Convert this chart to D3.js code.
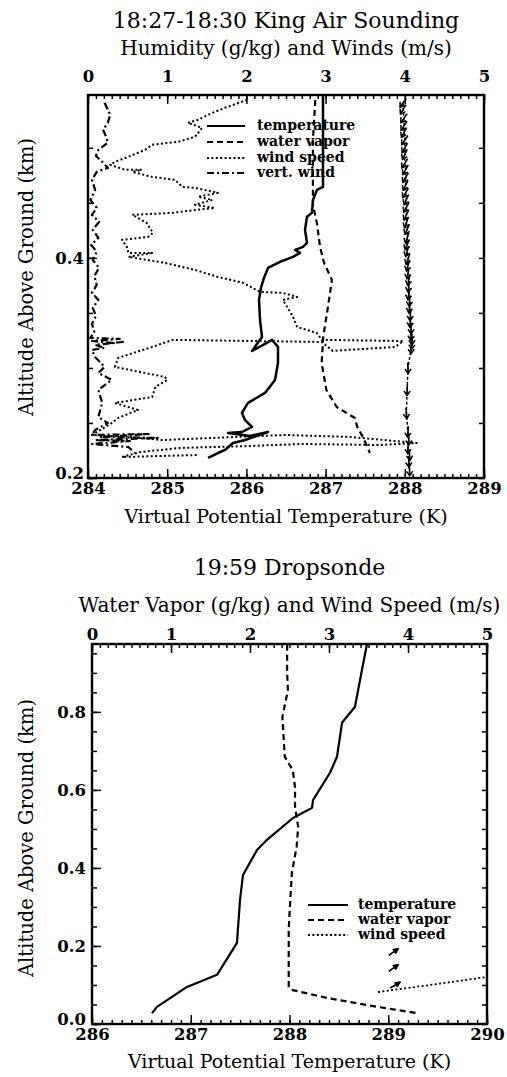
<!DOCTYPE html>
<html><head><meta charset="utf-8">
<script src="https://cdn.jsdelivr.net/npm/d3@7"></script>
<style>
body{margin:0;background:#fff}
svg{display:block}
text{font-family:"DejaVu Serif",serif;fill:#000}
</style>
</head><body>
<svg id="c" width="507" height="1077"></svg>
<script>
// ---------------- King Air sounding (top panel) ----------------
const kaTempT   = [286.967,286.967,286.891,286.841,286.828,286.765,286.740,286.765,286.715,286.614,286.677,286.588,286.424,286.273,286.222,286.184,286.159,286.172,286.197,286.071,286.235,286.323,286.399,286.399,286.361,286.235,286.020,285.944,285.982,286.071,285.944,285.768,286.045,286.273,285.982,285.831,285.730,285.641,285.515];
const kaTempAlt = [0.5473,0.4645,0.4618,0.4527,0.4409,0.4373,0.4255,0.4136,0.4100,0.4073,0.4045,0.4009,0.3964,0.3909,0.3818,0.3727,0.3618,0.3436,0.3282,0.3155,0.3218,0.3255,0.3191,0.3045,0.2891,0.2773,0.2682,0.2591,0.2527,0.2464,0.2418,0.2409,0.2382,0.2418,0.2345,0.2318,0.2255,0.2227,0.2182];

const kaVapQ   = [2.87,2.84,2.84,2.84,2.89,2.93,2.98,3.08,3.03,2.97,2.95,3.01,3.14,3.37,3.40,3.47,3.56];
const kaVapAlt = [0.5436,0.5073,0.4800,0.4482,0.4318,0.4100,0.3955,0.3800,0.3555,0.3282,0.3045,0.2800,0.2645,0.2545,0.2464,0.2373,0.2227];

const kaWspd = [2.01,1.73,1.57,1.39,1.26,1.44,1.35,1.14,0.81,0.72,0.51,0.34,0.28,0.47,0.68,0.56,0.81,1.10,1.19,1.35,1.64,1.39,1.57,1.35,1.60,1.06,0.56,0.74,0.82,0.76,0.43,0.49,0.51,0.81,0.51,0.97,1.35,1.64,1.96,2.17,2.46,2.64,2.46,2.59,2.64,2.89,2.95,3.98,3.88,3.09,2.95,1.07,0.81,0.38,0.34,0.97,1.00,0.85,0.81,0.34,0.63,0.38,0.30,0.05,0.53,0.93,2.49,3.31,4.15,3.69,2.71,2.05,1.16,0.66,0.43,1.39];
const kaWspdAlt = [0.5436,0.5364,0.5318,0.5255,0.5227,0.5182,0.5100,0.5055,0.5027,0.4982,0.4918,0.4873,0.4845,0.4800,0.4800,0.4782,0.4736,0.4709,0.4645,0.4636,0.4591,0.4555,0.4527,0.4482,0.4455,0.4409,0.4391,0.4318,0.4227,0.4191,0.4164,0.4100,0.4045,0.4045,0.4009,0.3955,0.3891,0.3827,0.3773,0.3691,0.3682,0.3645,0.3618,0.3464,0.3373,0.3318,0.3255,0.3245,0.3191,0.3155,0.3236,0.3255,0.3191,0.3091,0.3009,0.2918,0.2891,0.2827,0.2736,0.2682,0.2618,0.2545,0.2500,0.2391,0.2373,0.2345,0.2391,0.2373,0.2318,0.2300,0.2309,0.2291,0.2273,0.2236,0.2191,0.2209];

const kaVert = [0.21,0.28,0.25,0.19,0.23,0.25,0.13,0.10,0.18,0.25,0.11,0.05,0.09,0.03,0.11,0.05,0.14,0.06,0.13,0.04,0.11,0.06,0.14,0.08,0.11,0.05,0.13,0.06,0.10,0.05,0.08,0.03,0.40,0.05,0.30,0.44,0.09,0.21,0.05,0.09,0.21,0.13,0.30,0.13,0.18,0.13,0.25,0.09,0.05,0.78,0.15,0.88,0.09,0.53,0.05,0.51,0.59];
const kaVertAlt = [0.5409,0.5300,0.5227,0.5164,0.5100,0.5045,0.4982,0.4927,0.4873,0.4818,0.4782,0.4709,0.4618,0.4527,0.4455,0.4391,0.4327,0.4255,0.4182,0.4118,0.4055,0.3982,0.3909,0.3836,0.3755,0.3682,0.3618,0.3545,0.3473,0.3400,0.3327,0.3273,0.3264,0.3245,0.3227,0.3236,0.3209,0.3182,0.3164,0.3100,0.3009,0.2955,0.2891,0.2800,0.2682,0.2555,0.2500,0.2436,0.2391,0.2400,0.2373,0.2364,0.2345,0.2336,0.2309,0.2282,0.2227];

const kaArrowAlt = [0.541,0.535,0.527,0.520,0.514,0.507,0.500,0.494,0.486,0.480,0.473,0.466,0.459,0.453,0.446,0.439,0.432,0.426,0.418,0.412,0.406,0.399,0.393,0.386,0.380,0.374,0.367,0.361,0.355,0.348,0.342,0.336,0.330,0.326,0.322,0.318,0.300,0.280,0.259,0.242,0.235,0.227,0.221,0.215,0.207];
const kaArrowDir = [215,210,215,212,208,214,210,205,212,208,210,206,210,204,208,205,200,204,198,202,196,200,195,190,192,188,190,185,188,184,186,182,185,180,183,180,178,182,176,184,178,182,176,180,178];
const kaArrowPos = [3.98,3.98,3.99,3.99,3.99,4.00,4.00,4.00,4.00,4.01,4.01,4.01,4.01,4.02,4.02,4.02,4.02,4.03,4.03,4.03,4.03,4.04,4.04,4.04,4.05,4.05,4.05,4.06,4.06,4.07,4.07,4.08,4.08,4.09,4.09,4.08,4.04,4.03,4.02,4.04,4.05,4.04,4.06,4.05,4.06];

// ---------------- Dropsonde (bottom panel) ----------------
const dpTempT   = [288.785,288.734,288.663,288.532,288.511,288.481,288.410,288.238,288.228,288.035,287.772,287.671,287.529,287.499,287.468,287.266,286.962,286.658,286.608];
const dpTempAlt = [0.974,0.908,0.813,0.772,0.736,0.685,0.644,0.574,0.554,0.528,0.472,0.446,0.382,0.318,0.208,0.126,0.095,0.044,0.028];

const dpVapQ   = [2.47,2.47,2.48,2.41,2.42,2.44,2.54,2.57,2.57,2.61,2.59,2.53,2.51,2.49,2.49,2.54,2.97,3.61,4.11];
const dpVapAlt = [0.972,0.900,0.856,0.787,0.754,0.685,0.651,0.608,0.556,0.505,0.454,0.387,0.318,0.241,0.095,0.087,0.067,0.044,0.028];

const dpWspd    = [3.62,4.28,5.00];
const dpWspdAlt = [0.082,0.100,0.1205];

const dpArrowAlt = [0.185,0.144,0.100];
const dpArrowDir = [55,55,60];
const dpArrowPos = [3.82,3.82,3.84];

// ---------------- ticks / labels ----------------
const kaXTicks = [284,285,286,287,288,289];
const dpXTicks = [286,287,288,289,290];
const topTicks = [0,1,2,3,4,5];
const kaYTicks = [0.2,0.4];
const dpYTicks = [0.0,0.2,0.4,0.6,0.8];
const kaLegend = ["temperature","water vapor","wind speed","vert. wind"];
const dpLegend = ["temperature","water vapor","wind speed"];

const svg = d3.select("#c");
const DASH = "6,4", DOT = "2,2.4", DASHDOT = "7,3,2,3";

function panel(o){
  const x = d3.scaleLinear().domain(o.xDom).range([o.L,o.R]);
  const xt = d3.scaleLinear().domain([0,5]).range([o.L,o.R]);
  const y = d3.scaleLinear().domain(o.yDom).range([o.B,o.T]);
  const g = svg.append("g");
  const cid = "clip"+o.id;
  svg.append("defs").append("clipPath").attr("id",cid)
    .append("rect").attr("x",o.L).attr("y",o.T).attr("width",o.R-o.L).attr("height",o.B-o.T);
  const plot = g.append("g").attr("clip-path",`url(#${cid})`);

  const minorX = d3.range(o.xDom[0],o.xDom[1]+1e-9,0.1);
  const minorT = d3.range(0,5+1e-9,0.1);
  const minorY = d3.range(Math.ceil(o.yDom[0]/0.05-1e-9)*0.05,o.yDom[1]+1e-9,0.05);
  function ax(gen, pos){ const a=g.append("g").attr("transform",pos).call(gen); a.select(".domain").remove(); a.selectAll("line").attr("stroke","#000").attr("stroke-width",1.5); return a;}
  ax(d3.axisBottom(x).tickValues(minorX).tickSize(-4).tickFormat(""),`translate(0,${o.B})`);
  const bx = ax(d3.axisBottom(x).tickValues(o.xTicks).tickSize(-9).tickPadding(4).tickFormat(d3.format("d")),`translate(0,${o.B})`);
  ax(d3.axisTop(xt).tickValues(minorT).tickSize(-4).tickFormat(""),`translate(0,${o.T})`);
  const tx = ax(d3.axisTop(xt).tickValues(topTicks).tickSize(-9).tickPadding(o.topPad).tickFormat(d3.format("d")),`translate(0,${o.T})`);
  ax(d3.axisLeft(y).tickValues(minorY).tickSize(-5).tickFormat(""),`translate(${o.L},0)`);
  const ly = ax(d3.axisLeft(y).tickValues(o.yTicks).tickSize(-9).tickPadding(o.yPad).tickFormat(d3.format(".1f")),`translate(${o.L},0)`);
  ax(d3.axisRight(y).tickValues(minorY).tickSize(-5).tickFormat(""),`translate(${o.R},0)`);
  [bx,tx,ly].forEach(a=>a.selectAll("text").attr("font-size",16.5).attr("font-weight","bold").attr("fill","#000").attr("font-family","DejaVu Serif"));
  ly.selectAll("text").filter(d=>Math.abs(d-o.yDom[0])<1e-9).attr("dy","0.0em");

  g.append("rect").attr("x",o.L).attr("y",o.T).attr("width",o.R-o.L).attr("height",o.B-o.T)
    .attr("fill","none").attr("stroke","#000").attr("stroke-width",2.4);

  const cx = (o.L+o.R)/2;
  g.append("text").attr("x",cx).attr("y",o.titleY).attr("text-anchor","middle").attr("font-size",22).text(o.title);
  g.append("text").attr("x",cx).attr("y",o.subY).attr("text-anchor","middle").attr("font-size",20).text(o.sub);
  g.append("text").attr("x",cx).attr("y",o.xlabY).attr("text-anchor","middle").attr("font-size",19).text("Virtual Potential Temperature (K)");
  g.append("text").attr("transform",`translate(33,${o.ylabY}) rotate(-90)`).attr("text-anchor","middle").attr("font-size",19.5).text("Altitude Above Ground (km)");

  return {x,xt,y,plot,g};
}

function drawLine(p, xs, xsScale, alts, dash, w){
  const pts = xs.map((v,i)=>[xsScale(v), p.y(alts[i])]);
  p.plot.append("path").attr("d",d3.line()(pts)).attr("fill","none").attr("stroke","#000")
    .attr("stroke-width",w).attr("stroke-dasharray",dash).attr("stroke-linejoin","round");
}

function arrows(p, pos, alts, dirs, len, hl, ha, filled){
  alts.forEach((a,i)=>{
    const cx = p.xt(pos[i]), cy = p.y(a);
    const th = dirs[i]*Math.PI/180;
    const dx = Math.sin(th), dy = -Math.cos(th);
    const tip=[cx+dx*len/2, cy+dy*len/2], tail=[cx-dx*len/2, cy-dy*len/2];
    const h1=[tip[0]-hl*Math.sin(th-ha), tip[1]+hl*Math.cos(th-ha)];
    const h2=[tip[0]-hl*Math.sin(th+ha), tip[1]+hl*Math.cos(th+ha)];
    p.plot.append("path").attr("d",`M${tail}L${tip}`).attr("stroke","#000").attr("stroke-width",1.6);
    if(filled) p.plot.append("path").attr("d",`M${h1}L${tip}L${h2}Z`).attr("fill","#000").attr("stroke","#000").attr("stroke-width",1);
    else p.plot.append("path").attr("d",`M${h1}L${tip}L${h2}`).attr("fill","none").attr("stroke","#000").attr("stroke-width",1.5);
  });
}

function legend(g, labels, dashes, x0, x1, tx, ys){
  labels.forEach((l,i)=>{
    g.append("line").attr("x1",x0).attr("x2",x1).attr("y1",ys[i]).attr("y2",ys[i]).attr("stroke","#000")
      .attr("stroke-width",dashes[i]===DOT?1.8:2.2).attr("stroke-dasharray",dashes[i]);
    g.append("text").attr("x",tx).attr("y",ys[i]).attr("dy","0.32em").attr("font-size",14).attr("font-weight","bold").text(l);
  });
}

// ---- top panel
const p1 = panel({id:1,L:88,R:484,T:95,B:478,xDom:[284,289],yDom:[0.2,0.548],xTicks:kaXTicks,yTicks:kaYTicks,
  topPad:13,yPad:4,title:"18:27-18:30 King Air Sounding",sub:"Humidity (g/kg) and Winds (m/s)",titleY:28,subY:55,xlabY:523,ylabY:277});
p1.plot.append("path").attr("d",d3.line()(kaArrowAlt.map((a,i)=>[p1.xt(kaArrowPos[i]),p1.y(a)])))
  .attr("fill","none").attr("stroke","#000").attr("stroke-width",1.4).attr("stroke-dasharray","3,2");
arrows(p1, kaArrowPos, kaArrowAlt, kaArrowDir, 11, 5.5, 0.6, false);
drawLine(p1, kaVert, p1.xt, kaVertAlt, DASHDOT, 2.2);
drawLine(p1, kaWspd, p1.xt, kaWspdAlt, DOT, 2);
drawLine(p1, kaVapQ, p1.xt, kaVapAlt, DASH, 2.2);
drawLine(p1, kaTempT, p1.x, kaTempAlt, null, 2.5);
legend(p1.g, kaLegend, [null,DASH,DOT,DASHDOT], 207, 245, 257, [126,142,158,173]);

// ---- bottom panel
const p2 = panel({id:2,L:92,R:487,T:644,B:1024,xDom:[286,290],yDom:[0,0.974],xTicks:dpXTicks,yTicks:dpYTicks,
  topPad:4,yPad:6,title:"19:59 Dropsonde",sub:"Water Vapor (g/kg) and Wind Speed (m/s)",titleY:575,subY:612,xlabY:1068,ylabY:838});
drawLine(p2, dpWspd, p2.xt, dpWspdAlt, DOT, 1.8);
drawLine(p2, dpVapQ, p2.xt, dpVapAlt, DASH, 2.2);
drawLine(p2, dpTempT, p2.x, dpTempAlt, null, 2.2);
arrows(p2, dpArrowPos, dpArrowAlt, dpArrowDir, 12, 6, 0.45, true);
legend(p2.g, dpLegend, [null,DASH,DOT], 308, 348, 358, [905,920,935]);
</script>
</body></html>
